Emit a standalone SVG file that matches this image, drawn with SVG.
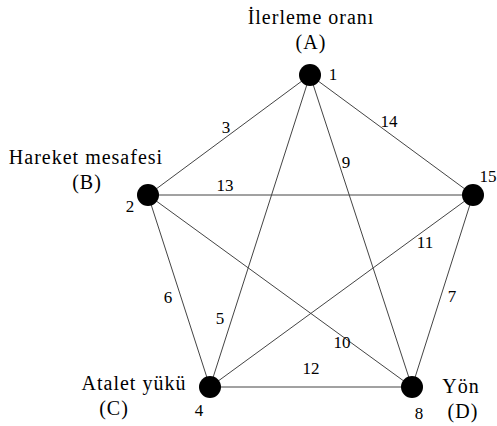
<svg xmlns="http://www.w3.org/2000/svg" width="497" height="426" viewBox="0 0 497 426">
<style>
.e{stroke:#444;stroke-width:1;fill:none}
.n{fill:#000}
.t{font-family:"Liberation Serif","Times New Roman",serif;font-size:20px;letter-spacing:1px;fill:#000}
.m{font-family:"Liberation Serif","Times New Roman",serif;font-size:17px;fill:#000}
</style>
<rect width="497" height="426" fill="#fff"/>
<g id="connectors">
<line class="e" x1="310" y1="75" x2="148" y2="195"/>
<line class="e" x1="310" y1="75" x2="473" y2="195"/>
<line class="e" x1="310" y1="75" x2="210" y2="387"/>
<line class="e" x1="310" y1="75" x2="412" y2="387"/>
<line class="e" x1="148" y1="195" x2="473" y2="195"/>
<line class="e" x1="148" y1="195" x2="210" y2="387"/>
<line class="e" x1="148" y1="195" x2="412" y2="387"/>
<line class="e" x1="473" y1="195" x2="210" y2="387"/>
<line class="e" x1="473" y1="195" x2="412" y2="387"/>
<line class="e" x1="210" y1="387" x2="412" y2="387"/>
<text class="m" x="226" y="133" text-anchor="middle">3</text>
<text class="m" x="389" y="127" text-anchor="middle">14</text>
<text class="m" x="346" y="168" text-anchor="middle">9</text>
<text class="m" x="225" y="191" text-anchor="middle">13</text>
<text class="m" x="425" y="248" text-anchor="middle">11</text>
<text class="m" x="452" y="302" text-anchor="middle">7</text>
<text class="m" x="168" y="303" text-anchor="middle">6</text>
<text class="m" x="220" y="324" text-anchor="middle">5</text>
<text class="m" x="342" y="348" text-anchor="middle">10</text>
<text class="m" x="311" y="374" text-anchor="middle">12</text>
</g>
<g id="nodeA">
<circle class="n" cx="310" cy="75" r="11"/>
<text class="t" x="311" y="24" text-anchor="middle">İlerleme oranı</text>
<text class="t" x="311" y="49" text-anchor="middle">(A)</text>
<text class="m" x="333" y="80" text-anchor="middle">1</text>
</g>
<g id="nodeB">
<circle class="n" cx="148" cy="195" r="11"/>
<text class="t" x="86" y="164" text-anchor="middle">Hareket mesafesi</text>
<text class="t" x="87" y="189" text-anchor="middle">(B)</text>
<text class="m" x="130" y="212" text-anchor="middle">2</text>
</g>
<g id="node15">
<circle class="n" cx="473" cy="195" r="11"/>
<text class="m" x="488" y="182" text-anchor="middle">15</text>
</g>
<g id="nodeC">
<circle class="n" cx="210" cy="387" r="11"/>
<text class="t" x="134" y="390" text-anchor="middle">Atalet yükü</text>
<text class="t" x="114" y="415" text-anchor="middle">(C)</text>
<text class="m" x="199" y="416" text-anchor="middle">4</text>
</g>
<g id="nodeD">
<circle class="n" cx="412" cy="387" r="11"/>
<text class="t" x="461" y="393" text-anchor="middle">Yön</text>
<text class="t" x="463" y="418" text-anchor="middle">(D)</text>
<text class="m" x="419" y="419" text-anchor="middle">8</text>
</g>
</svg>
